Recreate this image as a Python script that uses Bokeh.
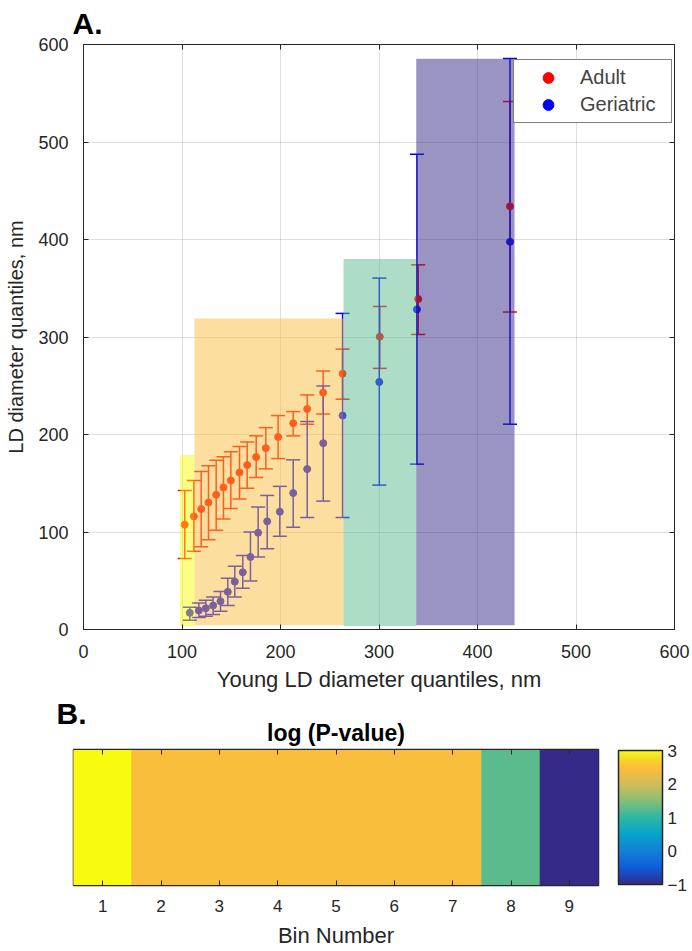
from bokeh.plotting import figure
from bokeh.models import (ColumnDataSource, LinearAxis, Legend, LegendItem, Title,
                          ColorBar, LinearColorMapper, FixedTicker, SingleIntervalTicker)
from bokeh.layouts import column
from bokeh.transform import transform
from bokeh.embed import file_html
from bokeh.resources import INLINE

# ---------------- data ----------------
adult_x = [102.8, 112.0, 119.5, 126.9, 134.7, 142.1, 149.6, 158.4, 166.2, 175.3,
           185.1, 197.6, 212.9, 227.1, 243.3, 263.0, 300.8, 339.8, 433.0]
adult_y = [107.5, 116.0, 123.5, 130.3, 138.2, 145.7, 152.9, 161.0, 168.6, 176.8,
           186.0, 197.5, 211.6, 226.2, 243.0, 262.4, 300.3, 338.9, 434.0]
adult_hi = [142.6, 152.9, 162.0, 167.9, 173.7, 177.1, 182.2, 187.7, 192.4, 198.6,
            207.0, 219.4, 223.5, 240.6, 265.1, 287.6, 331.3, 374.0, 541.6]
adult_lo = [72.7, 80.2, 85.0, 92.1, 101.7, 113.3, 124.2, 133.8, 145.0, 155.9,
            164.8, 175.3, 198.6, 210.5, 221.0, 236.2, 267.8, 302.6, 325.6]

geri_x = [107.9, 117.1, 124.2, 131.6, 139.1, 146.5, 153.6, 161.7, 169.5, 177.3,
          186.5, 199.3, 212.9, 227.1, 243.4, 263.0, 300.3, 338.5, 433.0]
geri_y = [17.1, 19.5, 21.8, 24.6, 29.0, 38.6, 49.1, 58.7, 74.4, 99.3,
          110.9, 120.8, 139.9, 164.5, 191.1, 219.4, 253.9, 328.3, 397.6]
geri_hi = [22.9, 27.3, 30.0, 33.4, 38.9, 52.6, 64.8, 75.8, 100.0, 125.6,
           137.5, 146.8, 174.0, 213.3, 249.8, 324.2, 360.4, 487.4, 585.6]
geri_lo = [9.6, 12.3, 13.6, 15.4, 18.8, 24.6, 33.4, 42.3, 49.8, 74.4,
           82.9, 95.6, 104.8, 115.0, 131.7, 115.0, 148.1, 169.6, 210.6]

# shaded bin regions in panel A
region_x0 = [97.8, 112.7, 264.0, 337.8]
region_x1 = [112.7, 264.0, 337.8, 437.6]
region_y0 = [3.5, 4.4, 3.5, 4.4]
region_y1 = [179.0, 319.0, 380.0, 585.5]
region_logp = [3.0, 2.45, 1.25, -1.0]

# panel B
bins = [1, 2, 3, 4, 5, 6, 7, 8, 9]
bin_logp = [3.0, 2.45, 2.45, 2.45, 2.45, 2.45, 2.45, 1.25, -1.0]
cbar_ticks = [-1, 0, 1, 2, 3]

FONT = "Liberation Sans"
TXT = "#262626"

# parula-like colormap
anchors = [(0.0, "#352A87"), (0.125, "#0F5CDD"), (0.25, "#1481D6"), (0.375, "#06A4CA"),
           (0.5, "#2EB7A4"), (0.625, "#87BF77"), (0.75, "#D1BB59"), (0.875, "#FEBE3A"),
           (0.9375, "#F5D82A"), (1.0, "#F9FB0E")]


def hex2rgb(h):
    return tuple(int(h[i:i + 2], 16) for i in (1, 3, 5))


palette = []
for i in range(256):
    t = i / 255
    for (t0, c0), (t1, c1) in zip(anchors[:-1], anchors[1:]):
        if t0 <= t <= t1:
            f = (t - t0) / (t1 - t0)
            a, b = hex2rgb(c0), hex2rgb(c1)
            palette.append("#%02X%02X%02X" % tuple(round(a[k] + f * (b[k] - a[k])) for k in range(3)))
            break

mapper = LinearColorMapper(palette=palette, low=-1, high=3)


def tick_only_axis(ticker):
    return LinearAxis(ticker=ticker, major_label_text_font_size="1px",
                      major_label_text_color=None, major_tick_in=5, major_tick_out=0,
                      minor_tick_line_color=None, axis_line_color=TXT,
                      major_tick_line_color=TXT, major_label_standoff=0, axis_label=None)


# ---------------- panel A ----------------
p = figure(width=692, height=694, x_range=(0, 600), y_range=(0, 600), title=None,
           output_backend="svg", toolbar_location=None,
           min_border_left=83, min_border_right=18, min_border_top=44, min_border_bottom=64)

src_a = ColumnDataSource(dict(x=adult_x, y=adult_y, hi=adult_hi, lo=adult_lo))
src_g = ColumnDataSource(dict(x=geri_x, y=geri_y, hi=geri_hi, lo=geri_lo))

RED, BLUE = "#FF0000", "#0000FF"
for src, col in ((src_a, RED), (src_g, BLUE)):
    p.segment(x0="x", y0="lo", x1="x", y1="hi", source=src, line_color=col, line_width=1.5)
    p.scatter(x="x", y="hi", source=src, marker="dash", size=14, line_color=col, line_width=1.5)
    p.scatter(x="x", y="lo", source=src, marker="dash", size=14, line_color=col, line_width=1.5)
r_a = p.scatter(x="x", y="y", source=src_a, size=7, fill_color=RED, line_color=RED)
r_g = p.scatter(x="x", y="y", source=src_g, size=7, fill_color=BLUE, line_color=BLUE)

reg = ColumnDataSource(dict(x0=region_x0, x1=region_x1, y0=region_y0, y1=region_y1, logp=region_logp))
p.quad(left="x0", right="x1", bottom="y0", top="y1", source=reg,
       fill_color=transform("logp", mapper), fill_alpha=0.5, line_color=None)

for ax in (p.xaxis[0], p.yaxis[0]):
    ax.ticker = SingleIntervalTicker(interval=100)
    ax.major_tick_in = 5
    ax.major_tick_out = 0
    ax.minor_tick_line_color = None
    ax.axis_line_color = TXT
    ax.major_tick_line_color = TXT
    ax.major_label_text_font = FONT
    ax.major_label_text_font_size = "18px"
    ax.major_label_text_color = TXT
    ax.axis_label_text_font = FONT
    ax.axis_label_text_font_style = "normal"
    ax.axis_label_text_color = TXT

p.xaxis.axis_label = "Young LD diameter quantiles, nm"
p.xaxis.axis_label_text_font_size = "22px"
p.xaxis.major_label_standoff = 11
p.xaxis.axis_label_standoff = 6
p.yaxis.axis_label = "LD diameter quantiles, nm"
p.yaxis.axis_label_text_font_size = "20px"
p.yaxis.major_label_standoff = 11
p.yaxis.axis_label_standoff = 8

p.add_layout(tick_only_axis(SingleIntervalTicker(interval=100)), "above")
p.add_layout(tick_only_axis(SingleIntervalTicker(interval=100)), "right")
p.add_layout(Title(text="A.", align="left", offset=-11, standoff=2, text_font=FONT,
                   text_font_size="30px", text_font_style="bold", text_color="black"), "above")

p.grid.grid_line_color = TXT
p.grid.grid_line_alpha = 0.15
p.outline_line_color = TXT

legend = Legend(items=[LegendItem(label="Adult", renderers=[r_a]),
                       LegendItem(label="Geriatric", renderers=[r_g])],
                location=(430, 506), padding=4, spacing=0, glyph_width=60, glyph_height=27,
                label_standoff=2, label_width=87, label_height=27,
                label_text_font=FONT, label_text_font_size="20px",
                border_line_color="black", border_line_width=1.5,
                background_fill_color="white", background_fill_alpha=1.0)
p.add_layout(legend)

# ---------------- panel B ----------------
p2 = figure(width=692, height=257, x_range=(0.5, 9.5), y_range=(0, 1), title=None,
            output_backend="svg", toolbar_location=None,
            min_border_left=73, min_border_right=94, min_border_top=55, min_border_bottom=66)

hsrc = ColumnDataSource(dict(bin=bins, logp=bin_logp))
p2.rect(x="bin", y=0.5, width=1, height=1, source=hsrc,
        fill_color=transform("logp", mapper), line_color=transform("logp", mapper), line_width=1)

p2.yaxis.visible = False
p2.grid.visible = False
xa = p2.xaxis[0]
xa.ticker = FixedTicker(ticks=bins)
xa.major_tick_in = 5
xa.major_tick_out = 0
xa.minor_tick_line_color = None
xa.axis_line_color = TXT
xa.major_tick_line_color = TXT
xa.major_label_text_font = FONT
xa.major_label_text_font_size = "17px"
xa.major_label_text_color = TXT
xa.major_label_standoff = 14
xa.axis_label = "Bin Number"
xa.axis_label_text_font = FONT
xa.axis_label_text_font_size = "22px"
xa.axis_label_text_font_style = "normal"
xa.axis_label_text_color = TXT
xa.axis_label_standoff = 8

p2.add_layout(tick_only_axis(FixedTicker(ticks=bins)), "above")
p2.add_layout(Title(text="log (P-value)", align="center", vertical_align="top",
                    text_font=FONT, text_font_size="23px",
                    text_font_style="bold", text_color="black", standoff=4), "above")
p2.add_layout(Title(text="B.", align="left", offset=-17, standoff=-24, text_font=FONT,
                    text_font_size="30px", text_font_style="bold", text_color="black"), "above")
p2.outline_line_color = TXT
p2.outline_line_width = 1.5

cb = ColorBar(color_mapper=mapper, ticker=FixedTicker(ticks=cbar_ticks), width=44, height=134,
              padding=0, margin=0, location=(20, 1),
              major_label_text_font=FONT, major_label_text_font_size="17px",
              major_label_text_color=TXT, major_tick_line_color=None,
              bar_line_color=TXT, bar_line_width=1.5, label_standoff=5)
p2.add_layout(cb, "right")

for fig in (p, p2):
    if "frame_align" in fig.properties():
        fig.frame_align = False

layout = column(p, p2, spacing=0)
open("out.html", "w").write(file_html(layout, INLINE))
